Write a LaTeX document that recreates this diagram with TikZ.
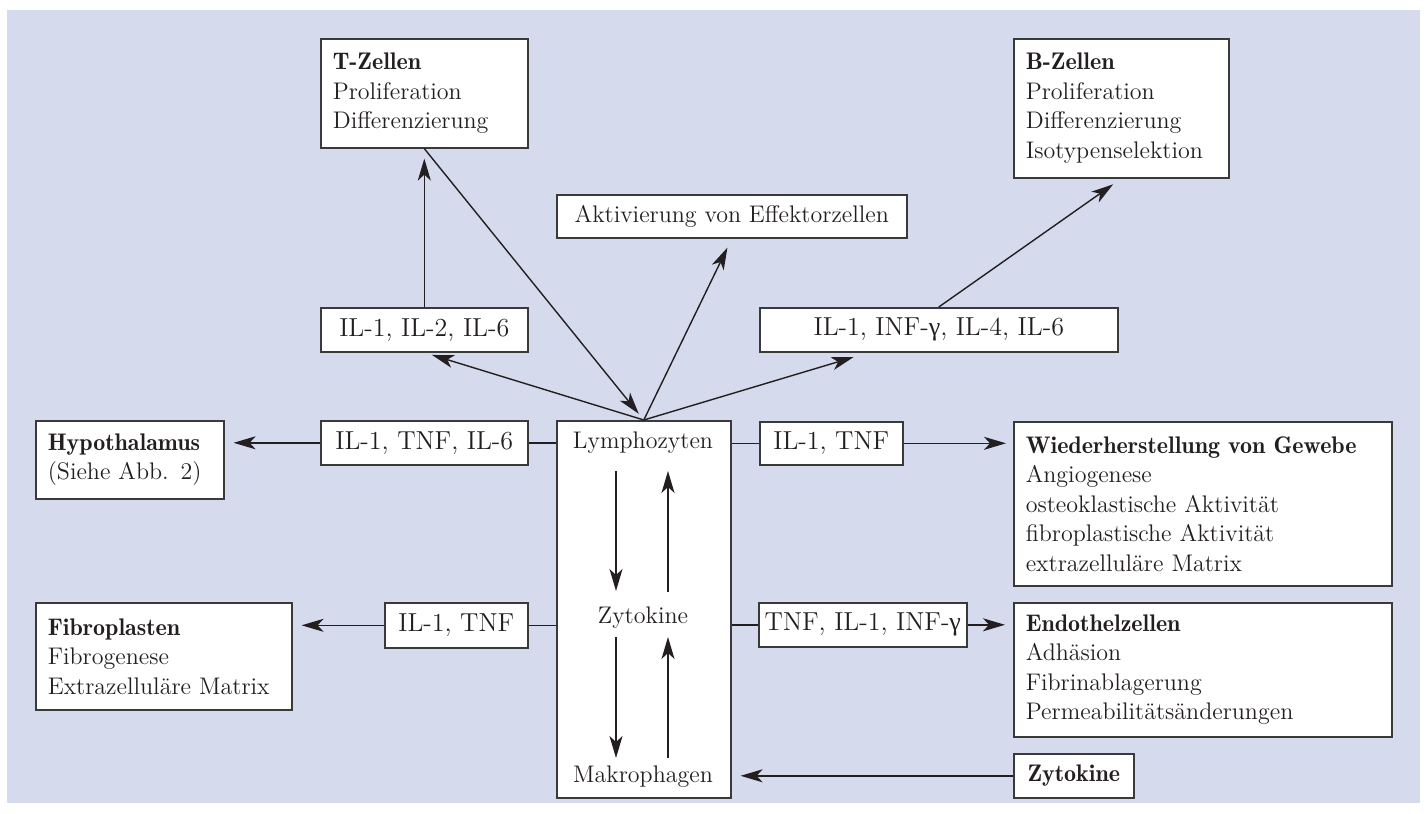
\documentclass[tikz,border=0pt]{standalone}
\usepackage{fontspec}
\newfontfamily\grfont{Liberation Serif}
\usetikzlibrary{arrows.meta,calc}
\definecolor{ink}{HTML}{231F20}
\definecolor{frame}{HTML}{3A3A3A}
\definecolor{panel}{HTML}{D5DAED}
\newcommand{\hd}[1]{{\fontseries{b}\selectfont #1}}
\newcommand{\gam}{{\grfont γ}}

\begin{document}
\begin{tikzpicture}[
  x=0.5pt, y=-0.5pt,
  >={Stealth[length=11pt,width=6.5pt,inset=3pt]},
  box/.style={draw=frame, fill=white, line width=0.8pt, anchor=north west, align=left, inner xsep=6pt, inner ysep=0pt, font=\fontsize{12}{14.75}\selectfont, text=ink},
  tag/.style={draw=frame, fill=white, line width=0.8pt, anchor=north west, inner xsep=1pt, inner ysep=0pt, font=\fontsize{13}{15}\selectfont, text=ink},
  cell/.style={inner sep=0pt, font=\fontsize{12}{14.75}\selectfont, text=ink},
  link/.style={ink, line width=0.7pt},
]

\fill[panel] (7,10) rectangle (1420,803);
\useasboundingbox (0,0) rectangle (1426,814);

% target boxes
\node[box, text width=91.5pt, minimum height=54.5pt] (tzellen) at (320,38) {\hd{T-Zellen}\\Proliferation\\Differenzierung};
\node[box, text width=95.5pt, minimum height=69.5pt] (bzellen) at (1013,38) {\hd{B-Zellen}\\Proliferation\\Differenzierung\\Isotypenselektion};
\node[tag, font=\fontsize{12}{14}\selectfont, minimum width=175pt, minimum height=21.5pt] (aktiv) at (556,194) {Aktivierung von Effektorzellen};
\node[box, text width=82pt, minimum height=39pt] (hypo) at (35,420) {\hd{Hypothalamus}\\(Siehe Abb. 2)};
\node[box, text width=116pt, minimum height=53.5pt] (fibro) at (35,602) {\hd{Fibroplasten}\\Fibrogenese\\Extrazelluläre Matrix};
\node[box, text width=177pt, minimum height=82pt] (wieder) at (1013,421) {\hd{Wiederherstellung von Gewebe}\\Angiogenese\\osteoklastische Aktivität\\fibroplastische Aktivität\\extrazelluläre Matrix};
\node[box, text width=177pt, minimum height=67pt] (endo) at (1013,602) {\hd{Endothelzellen}\\Adhäsion\\Fibrinablagerung\\Permeabilitätsänderungen};
\node[tag, minimum width=60pt, minimum height=22pt, font=\fontsize{12}{14}\selectfont] (zytin) at (1013,753) {\hd{Zytokine}};

% cytokine labels
\node[tag, minimum width=103.5pt, minimum height=22pt] (iltz) at (320,307) {IL-1, IL-2, IL-6};
\node[tag, minimum width=179pt, minimum height=22pt] (ilbz) at (759,307) {IL-1, INF-\gam, IL-4, IL-6};
\node[tag, minimum width=103.5pt, minimum height=22pt] (ilhyp) at (320,420) {IL-1, TNF, IL-6};
\node[tag, minimum width=71.5pt, minimum height=22.5pt] (ilfib) at (384,602) {IL-1, TNF};
\node[tag, minimum width=71.5pt, minimum height=21.5pt] (ilwie) at (759,421) {IL-1, TNF};
\node[tag, minimum width=104pt, minimum height=22pt] (ilend) at (758,602) {TNF, IL-1, INF-\gam};

% centre
\node[draw=frame, fill=white, line width=0.8pt, anchor=north west, minimum width=87pt, minimum height=188.5pt] (lymph) at (556,420) {};
\node[cell] (lym) at (643,443) {Lymphozyten};
\node[cell] (zyt) at (643,618) {Zytokine};
\node[cell] (mak) at (643,777) {Makrophagen};

\draw[link,->] ($(lym)+(-27,28)$) -- ($(zyt)+(-27,-27)$);
\draw[link,->] ($(zyt)+(25,-26)$) -- ($(lym)+(25,28)$);
\draw[link,->] ($(zyt)+(-27,19)$) -- ($(mak)+(-27,-19)$);
\draw[link,->] ($(mak)+(25,-19)$) -- ($(zyt)+(25,19)$);

% fan above the centre
\draw[link,->,shorten >=4pt] (tzellen.south) -- (lymph.north);
\draw[link,->,shorten >=4pt] (lymph.north) -- (iltz.south);
\draw[link,->,shorten >=5pt] (lymph.north) -- (aktiv.south);
\draw[link,->,shorten >=8pt] (lymph.north) -- ([xshift=-35pt]ilbz.south);
\draw[link,->,shorten >=5pt] (iltz.north) -- (tzellen.south);
\draw[link,->,shorten >=5pt] (ilbz.north) -- (bzellen.south);

% sides
\draw[link] (ilhyp.east) -- (ilhyp.east -| lymph.west);
\draw[link,->,shorten >=4.5pt] (ilhyp.west) -- (ilhyp.west -| hypo.east);
\draw[link] (ilfib.east) -- (ilfib.east -| lymph.west);
\draw[link,->,shorten >=4.5pt] (ilfib.west) -- (ilfib.west -| fibro.east);
\draw[link] (lymph.east |- ilwie.west) -- (ilwie.west);
\draw[link,->,shorten >=3.5pt] (ilwie.east) -- (ilwie.east -| wieder.west);
\draw[link] (lymph.east |- ilend.west) -- (ilend.west);
\draw[link,->,shorten >=4pt] (ilend.east) -- (ilend.east -| endo.west);
\draw[link,->,shorten >=4.5pt] (zytin.west) -- (zytin.west -| lymph.east);

\end{tikzpicture}
\end{document}
